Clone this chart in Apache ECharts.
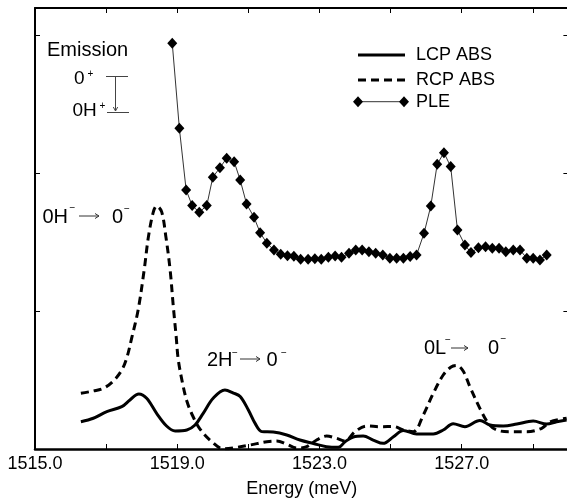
<!DOCTYPE html>
<html><head><meta charset="utf-8">
<script src="https://cdn.jsdelivr.net/npm/echarts@6/dist/echarts.min.js"></script>
<style>html,body{margin:0;padding:0;background:#fff}#c{width:567px;height:500px}</style>
</head><body><div id="c"></div>
<script>
const xTickLabels = ['1515.0', '1519.0', '1523.0', '1527.0'];

const lcpX = [1516.29,1516.64,1517.02,1517.44,1517.67,1517.92,1518.14,1518.42,1518.70,1518.94,1519.27,1519.50,1519.73,1520.01,1520.34,1520.58,1520.77,1521.00,1521.19,1521.38,1521.70,1522.08,1522.45,1522.83,1523.20,1523.53,1523.72,1523.95,1524.23,1524.51,1524.79,1525.08,1525.36,1525.73,1526.20,1526.48,1526.76,1527.09,1527.51,1527.80,1528.17,1528.55,1529.01,1529.39,1529.67,1529.95];
const lcpY = [0.198,0.223,0.271,0.307,0.356,0.399,0.368,0.259,0.167,0.131,0.138,0.174,0.259,0.368,0.428,0.406,0.381,0.283,0.186,0.126,0.123,0.102,0.065,0.040,0.017,0.012,0.053,0.087,0.094,0.065,0.041,0.089,0.134,0.109,0.109,0.138,0.184,0.162,0.207,0.174,0.167,0.181,0.203,0.181,0.198,0.210];

const rcpX = [1516.29,1516.64,1516.92,1517.20,1517.44,1517.58,1517.72,1517.90,1518.07,1518.19,1518.33,1518.42,1518.56,1518.68,1518.80,1518.89,1518.97,1519.03,1519.17,1519.27,1519.41,1519.64,1519.97,1520.30,1520.67,1521.05,1521.52,1521.80,1522.08,1522.36,1522.64,1522.92,1523.20,1523.48,1523.72,1524.00,1524.33,1524.70,1525.08,1525.36,1525.64,1525.92,1526.20,1526.48,1526.70,1526.86,1527.04,1527.23,1527.51,1527.75,1527.98,1528.36,1528.83,1529.25,1529.48,1529.95];
const rcpY = [0.404,0.421,0.440,0.493,0.573,0.660,0.806,1.009,1.299,1.541,1.722,1.763,1.722,1.541,1.299,1.033,0.815,0.646,0.452,0.348,0.254,0.145,0.053,0.001,0.012,0.029,0.053,0.058,0.034,0.007,0.017,0.065,0.094,0.078,0.058,0.126,0.167,0.162,0.163,0.138,0.126,0.247,0.404,0.537,0.595,0.606,0.566,0.452,0.295,0.186,0.138,0.126,0.126,0.150,0.196,0.223];

const pleX = [1518.86,1519.06,1519.25,1519.42,1519.62,1519.83,1520.00,1520.20,1520.39,1520.60,1520.77,1520.95,1521.16,1521.33,1521.52,1521.72,1521.91,1522.10,1522.28,1522.47,1522.68,1522.87,1523.05,1523.25,1523.44,1523.62,1523.83,1524.02,1524.20,1524.39,1524.58,1524.78,1524.98,1525.17,1525.36,1525.55,1525.73,1525.94,1526.13,1526.31,1526.50,1526.69,1526.88,1527.09,1527.26,1527.47,1527.67,1527.86,1528.05,1528.24,1528.45,1528.64,1528.83,1529.01,1529.20,1529.39];
const pleY = [2.944,2.327,1.880,1.766,1.718,1.766,1.972,2.041,2.110,2.085,1.952,1.778,1.681,1.570,1.493,1.444,1.413,1.403,1.398,1.377,1.377,1.381,1.377,1.391,1.401,1.391,1.420,1.444,1.444,1.432,1.420,1.408,1.384,1.384,1.384,1.396,1.408,1.565,1.763,2.066,2.150,2.049,1.589,1.480,1.425,1.461,1.468,1.456,1.456,1.432,1.444,1.444,1.384,1.384,1.372,1.408];

const FONT = '"Liberation Sans", Arial, Helvetica, sans-serif';
function pairs(xs, ys) { return xs.map((x, i) => [x, ys[i]]); }
function txt(s, x, y, size) {
  return {type: 'text', x: x, y: y, silent: true,
    style: {text: s, font: size + 'px ' + FONT, fill: '#000', align: 'left', verticalAlign: 'middle', textAlign: 'left', textVerticalAlign: 'middle'}};
}
function seg(x1, y1, x2, y2, w, color, dash) {
  return {type: 'line', silent: true, shape: {x1: x1, y1: y1, x2: x2, y2: y2},
    style: {stroke: color || '#000', lineWidth: w || 1, lineDash: dash || null}};
}
function arrowH(x1, x2, y) {
  return [seg(x1, y, x2, y, 1, '#333'),
    {type: 'polyline', silent: true, shape: {points: [[x2 - 4, y - 2.5], [x2, y], [x2 - 4, y + 2.5]]}, style: {stroke: '#333', lineWidth: 1, fill: null}}];
}
function diamond(cx, cy) {
  return {type: 'polygon', silent: true, shape: {points: [[cx - 5, cy], [cx, cy - 5.5], [cx + 5, cy], [cx, cy + 5.5]]}, style: {fill: '#000'}};
}

const graphics = [].concat(
  [txt('Emission', 47, 50, 20),
   txt('0', 74, 79, 19), txt('+', 87.5, 74, 10),
   txt('0H', 72.5, 111, 19), txt('+', 99.5, 106.5, 10),
   seg(106, 76.5, 128, 76.5, 1, '#444'),
   seg(107, 112.5, 129, 112.5, 1, '#444'),
   seg(115.5, 77, 115.5, 111, 1, '#444'),
   {type: 'polyline', silent: true, shape: {points: [[113.3, 107], [115.5, 111], [117.7, 107]]}, style: {stroke: '#444', lineWidth: 1, fill: null}},
   txt('0H', 42.5, 217, 20), txt('\u2212', 69.5, 208, 10), txt('0', 112, 217, 20), txt('\u2212', 124, 209, 10),
   txt('2H', 207, 360.5, 20), txt('\u2212', 232, 353, 10), txt('0', 266.5, 360.5, 20), txt('\u2212', 281, 353, 10),
   txt('0L', 424, 348.5, 20), txt('\u2212', 445, 340, 10), txt('0', 488, 348.5, 20), txt('\u2212', 500.5, 339, 10),
   // legend
   seg(358, 55, 405, 55, 3, '#000'),
   seg(358, 80, 405, 80, 3, '#000', [8, 5]),
   seg(358, 101.7, 404, 101.7, 1, '#333'),
   diamond(358, 101.7), diamond(404, 101.7),
   txt('LCP ABS', 416, 55.5, 18), txt('RCP ABS', 416, 80.5, 18), txt('PLE', 416, 102, 18)],
  arrowH(79, 99, 216), arrowH(240, 260, 359), arrowH(451, 468, 348)
);

const chart = echarts.init(document.getElementById('c'), null, {renderer: 'canvas'});
const axisCommon = {
  type: 'value', min: 1515, max: 1530, interval: 2,
  splitLine: {show: false},
  axisTick: {show: true, inside: true, length: 5, lineStyle: {color: '#000', width: 1}}
};
chart.setOption({
  animation: false,
  backgroundColor: '#fff',
  grid: {left: 35, top: 8, width: 533.4, height: 441, containLabel: false, outerBoundsMode: 'none'},
  xAxis: [
    Object.assign({}, axisCommon, {
      position: 'bottom',
      axisLine: {show: true, onZero: false, lineStyle: {color: '#000', width: 2.5}},
      axisLabel: {show: true, margin: 6, color: '#000', fontSize: 18, fontFamily: FONT,
        formatter: v => { const s = v.toFixed(1); return xTickLabels.indexOf(s) >= 0 ? s : ''; }},
      name: 'Energy (meV)', nameLocation: 'middle', nameGap: 31,
      nameTextStyle: {color: '#000', fontSize: 18, fontFamily: FONT}
    }),
    Object.assign({}, axisCommon, {
      position: 'top',
      axisLine: {show: true, onZero: false, lineStyle: {color: '#000', width: 2}},
      axisLabel: {show: false}
    })
  ],
  yAxis: [
    {type: 'value', min: 0, max: 3.2, interval: 1, position: 'left',
      axisLine: {show: true, onZero: false, lineStyle: {color: '#000', width: 2}},
      axisTick: {show: true, inside: true, length: 5, lineStyle: {color: '#000', width: 1}},
      axisLabel: {show: false}, splitLine: {show: false}},
    {type: 'value', min: 0, max: 3.2, interval: 1, position: 'right',
      axisLine: {show: true, onZero: false, lineStyle: {color: '#000', width: 2}},
      axisTick: {show: true, inside: true, length: 5, lineStyle: {color: '#000', width: 1}},
      axisLabel: {show: false}, splitLine: {show: false}}
  ],
  series: [
    {name: 'LCP ABS', type: 'line', data: pairs(lcpX, lcpY), symbol: 'none', smooth: 0.35,
      lineStyle: {color: '#000', width: 3}, z: 2},
    {name: 'RCP ABS', type: 'line', data: pairs(rcpX, rcpY), symbol: 'none', smooth: 0.35,
      lineStyle: {color: '#000', width: 3, type: [8, 5]}, z: 2},
    {name: 'PLE', type: 'line', data: pairs(pleX, pleY), symbol: 'diamond', symbolSize: [10, 11],
      itemStyle: {color: '#000'}, lineStyle: {color: '#333', width: 1}, z: 3}
  ],
  graphic: {elements: graphics}
});
</script></body></html>
